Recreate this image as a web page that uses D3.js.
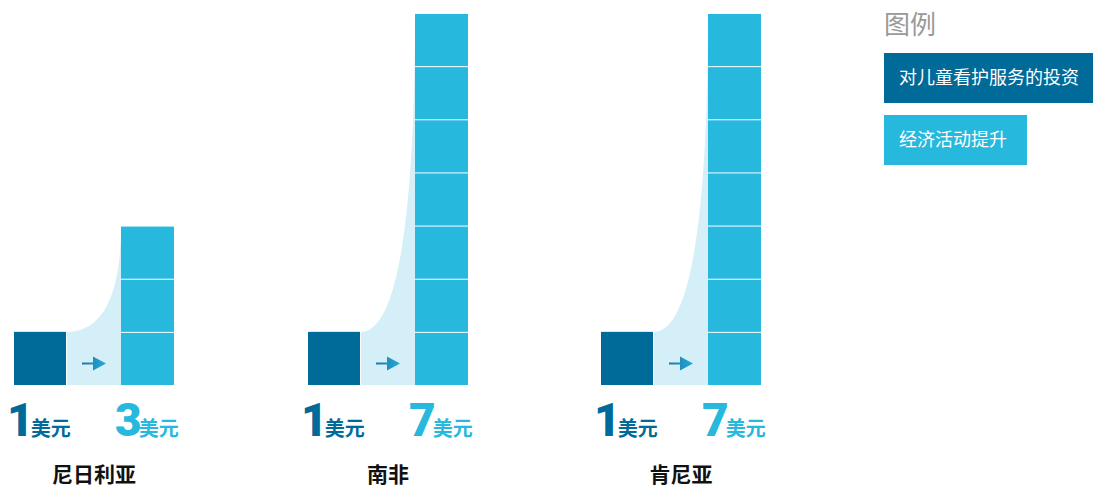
<!DOCTYPE html>
<html>
<head>
<meta charset="utf-8">
<script src="https://cdn.jsdelivr.net/npm/d3@7"></script>
<style>
  html, body { margin: 0; padding: 0; background: #fff; }
  svg { display: block; }
</style>
</head>
<body>
<svg id="chart" width="1093" height="489"></svg>
<script>
// Return on each dollar invested in childcare services
const countries = ["尼日利亚", "南非", "肯尼亚"];
const invested = [1, 1, 1];
const returned = [3, 7, 7];
const unitLabel = "美元";
const legendTitle = "图例";
const legendItems = ["对儿童看护服务的投资", "经济活动提升"];

const DARK = "#006a99";
const LIGHT = "#27b8dd";
const BAND = "#d4eff7";
const CJK = "'Noto Sans CJK SC', 'Noto Sans', sans-serif";

const svg = d3.select("#chart");

// Vertical scale: dollars -> pixels (one cube per dollar)
const baseY = 385;
const y = d3.scaleLinear().domain([0, 7]).range([baseY, 13]);
const unit = baseY - y(1);

// Group placement
const x = d3.scaleBand().domain(countries).range([14, 895]).paddingInner(0).paddingOuter(0);
const cubeW = 53, darkW = 52, bandW = 54;

const groups = svg.selectAll("g.country")
  .data(countries.map((c, i) => ({ c, inv: invested[i], ret: returned[i] })))
  .join("g")
  .attr("class", "country")
  .attr("transform", d => `translate(${Math.round(x(d.c))},0)`);

// Light band with curved top rising toward the return column
groups.append("path")
  .attr("fill", BAND)
  .attr("d", d => {
    const x0 = darkW + 1, x1 = darkW + 1 + bandW;
    const y0 = y(d.inv), yt = y(d.ret);
    const w = x1 - x0, h = y0 - yt;
    const p = d3.path();
    p.moveTo(x0, baseY);
    p.lineTo(x0, y0);
    p.bezierCurveTo(x0 + 0.5 * w, y0, x1, y0 - 0.2 * h, x1, yt);
    p.lineTo(x1, baseY);
    p.closePath();
    return p.toString();
  });

// Invested dollar (dark square)
groups.append("rect")
  .attr("x", 0)
  .attr("y", d => y(d.inv))
  .attr("width", darkW)
  .attr("height", d => baseY - y(d.inv))
  .attr("fill", DARK);

// Returned dollars stacked as cubes
const colX = darkW + 1 + bandW;
groups.each(function(d) {
  d3.select(this).selectAll("rect.cube")
    .data(d3.range(d.ret))
    .join("rect")
    .attr("class", "cube")
    .attr("x", colX)
    .attr("y", k => y(k + 1) + 1)
    .attr("width", cubeW)
    .attr("height", unit - 1)
    .attr("fill", LIGHT);
});

// Arrow in the band
const defs = svg.append("defs");
const grad = defs.append("linearGradient").attr("id", "arrowGrad")
  .attr("x1", "0%").attr("x2", "100%");
grad.append("stop").attr("offset", "0%").attr("stop-color", "#1f77a8");
grad.append("stop").attr("offset", "100%").attr("stop-color", "#23a9d8");

groups.append("path")
  .attr("fill", "url(#arrowGrad)")
  .attr("d", d => {
    const cx = darkW + 1 + bandW / 2;
    const cy = y(d.inv / 2) + 5;
    return `M${cx - 12},${cy - 1}H${cx - 1}V${cy - 7}L${cx + 12},${cy}L${cx - 1},${cy + 7}V${cy + 1}H${cx - 12}Z`;
  });

// Value labels
function valueLabel(sel, xPos, val, color) {
  const t = sel.append("text")
    .attr("x", xPos)
    .attr("y", 436)
    .attr("fill", color)
    .attr("font-family", CJK);
  t.append("tspan")
    .attr("font-family", "Roboto, 'Noto Sans', sans-serif")
    .attr("font-weight", 900)
    .attr("font-size", 46)
    .text(val);
  t.append("tspan")
    .attr("font-weight", 700)
    .attr("font-size", 20)
    .attr("dx", -3)
    .text(unitLabel);
}
groups.each(function(d) {
  const g = d3.select(this);
  valueLabel(g, -7, d.inv, DARK);
  valueLabel(g, colX - 6, d.ret, LIGHT);
});

// Country names
groups.append("text")
  .attr("x", (darkW + 1 + bandW + cubeW) / 2)
  .attr("y", 482)
  .attr("text-anchor", "middle")
  .attr("font-family", CJK)
  .attr("font-weight", 700)
  .attr("font-size", 21)
  .attr("fill", "#111")
  .text(d => d.c);

// Legend
const legend = svg.append("g").attr("transform", "translate(884,0)");
legend.append("text")
  .attr("x", 0)
  .attr("y", 34)
  .attr("font-family", CJK)
  .attr("font-size", 26)
  .attr("fill", "#999")
  .text(legendTitle);

const legendColors = [DARK, LIGHT];
const legendWidths = [209, 143];
const li = legend.selectAll("g.item")
  .data(legendItems)
  .join("g")
  .attr("class", "item")
  .attr("transform", (d, i) => `translate(0,${53 + i * 62})`);
li.append("rect")
  .attr("width", (d, i) => legendWidths[i])
  .attr("height", 50)
  .attr("fill", (d, i) => legendColors[i]);
li.append("text")
  .attr("x", 15)
  .attr("y", 31)
  .attr("font-family", CJK)
  .attr("font-size", 18)
  .attr("fill", "#fff")
  .text(d => d);
</script>
</body>
</html>
